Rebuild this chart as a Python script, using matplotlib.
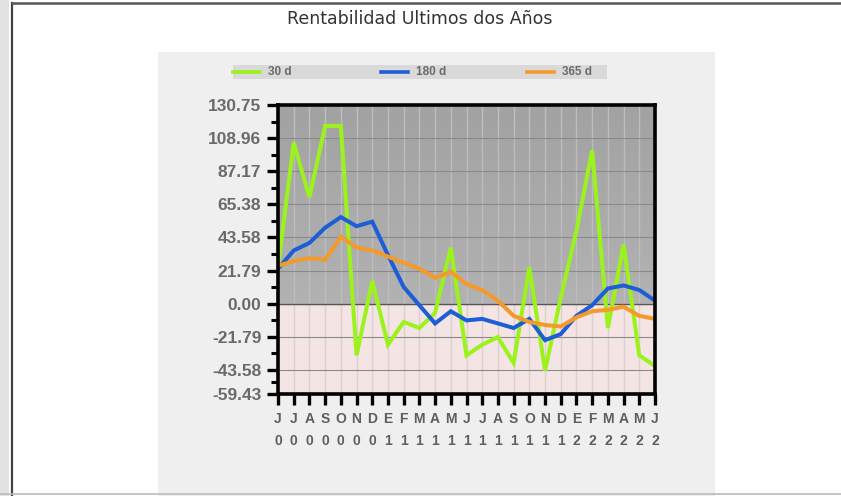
import numpy as np
import matplotlib
matplotlib.use('Agg')
import matplotlib.pyplot as plt
from matplotlib.patches import Rectangle
from matplotlib.lines import Line2D

# Datos
meses = ['J', 'J', 'A', 'S', 'O', 'N', 'D', 'E', 'F', 'M', 'A', 'M', 'J',
         'J', 'A', 'S', 'O', 'N', 'D', 'E', 'F', 'M', 'A', 'M', 'J']
anios = ['0'] * 7 + ['1'] * 12 + ['2'] * 6

r30 = [24, 106, 70, 117, 117, -34, 15, -27, -12, -16, -6, 37, -34,
       -27, -22, -39, 24, -44, 4, 48, 101, -16, 39, -34, -41]
r180 = [23, 35, 40, 50, 57, 51, 54, 32, 11, -1, -13, -5, -11,
        -10, -13, -16, -10, -24, -20, -8, -1, 10, 12, 9, 2]
r365 = [25, 28, 30, 29, 44, 37, 35, 31, 27, 23, 17, 21, 13,
        9, 2, -8, -12, -14, -15, -9, -5, -4, -2, -8, -10]

series = ['30 d', '180 d', '365 d']
colores = ['#9cf21c', '#1d5ed6', '#f39a2a']

yticks = [-59.43, -43.58, -21.79, 0.00, 21.79, 43.58, 65.38, 87.17, 108.96, 130.75]
ymin, ymax = -59.43, 130.75

fig = plt.figure(figsize=(8.41, 4.96), dpi=100)
fig.patch.set_facecolor('white')

# marco exterior
fig.patches.append(Rectangle((0, 0), 9 / 841, 1, transform=fig.transFigure,
                             facecolor='#e2e2e2', edgecolor='none', zorder=-2))
fig.add_artist(Line2D([12 / 841, 12 / 841], [0, 1 - 3 / 496], color='#444444', lw=1.6))
fig.add_artist(Line2D([12 / 841, 1], [1 - 3 / 496, 1 - 3 / 496], color='#555555', lw=1.8))
fig.add_artist(Line2D([0, 1], [2 / 496, 2 / 496], color='#bbbbbb', lw=1.2))

# panel gris
fig.patches.append(Rectangle((158 / 841, 0), (715 - 158) / 841, 1 - 52 / 496,
                             transform=fig.transFigure, facecolor='#efefef',
                             edgecolor='none', zorder=-2))

fig.text(420 / 841, 1 - 19 / 496, 'Rentabilidad Ultimos dos Años', ha='center',
         va='center', fontsize=12.5, color='#333333', family='DejaVu Sans')

# leyenda
fig.patches.append(Rectangle((233 / 841, 1 - 79 / 496), (607 - 233) / 841, 14 / 496,
                             transform=fig.transFigure, facecolor='#d9d9d9',
                             edgecolor='none', zorder=-1))
leg_x = [233, 381, 527]
for nombre, col, lx in zip(series, colores, leg_x):
    fig.add_artist(Line2D([lx / 841, (lx + 27) / 841], [1 - 72 / 496] * 2,
                          color=col, lw=2.6, zorder=2))
    fig.text((lx + 35) / 841, 1 - 72 / 496, nombre, ha='left', va='center',
             fontsize=8.5, fontweight='bold', color='#6b6b6b', family='Liberation Sans')

ax = fig.add_axes([278 / 841, 1 - 394 / 496, 377 / 841, 289 / 496])
ax.set_zorder(3)
x = np.arange(len(meses))

# fondo: degradado gris arriba, rosado abajo
grad = np.linspace(0, 1, 100).reshape(-1, 1)
cmap = matplotlib.colors.LinearSegmentedColormap.from_list('g', ['#b2b2b2', '#a2a2a2'])
ax.imshow(grad, extent=[0, len(meses) - 1, 0, ymax], origin='lower', aspect='auto',
          cmap=cmap, zorder=0)
ax.axhspan(ymin, 0, color='#f4e4e4', zorder=0)
ax.set_xlim(0, len(meses) - 1)
ax.set_ylim(ymin, ymax)

# rejilla
for xi in x:
    ax.plot([xi, xi], [0, ymax], color='#bdbdbd', lw=1.0, zorder=1)
    ax.plot([xi, xi], [ymin, 0], color='#ddd0d0', lw=1.0, zorder=1)
for yv in yticks:
    ax.axhline(yv, color='#8a8a8a', lw=0.8, zorder=1)
ax.axhline(0, color='#555555', lw=1.0, zorder=1)

for vals, col in zip([r30, r180, r365], colores):
    ax.plot(x, vals, color=col, lw=2.9, zorder=3, solid_joinstyle='miter')

ax.set_yticks(yticks)
ax.set_yticklabels([f'{v:.2f}' for v in yticks])
minors = [(yticks[i] + yticks[i + 1]) / 2 for i in range(len(yticks) - 1)]
ax.set_yticks(minors, minor=True)
ax.set_xticks(x)
ax.set_xticklabels([f'{m}\n{a}' for m, a in zip(meses, anios)], linespacing=1.75)

for lab in ax.get_yticklabels():
    lab.set_fontweight('bold')
    lab.set_fontsize(12.5)
    lab.set_color('#6a6a6a')
    lab.set_family('Liberation Sans')
for lab in ax.get_xticklabels():
    lab.set_fontweight('bold')
    lab.set_fontsize(10)
    lab.set_color('#5e5e5e')
    lab.set_family('Liberation Sans')

ax.tick_params(axis='y', which='major', length=8, width=2.4, color='black', pad=4)
ax.tick_params(axis='y', which='minor', length=5, width=2.2, color='black')
ax.tick_params(axis='x', which='major', length=8, width=2.4, color='black', pad=5)
for s in ax.spines.values():
    s.set_linewidth(2.6)
    s.set_color('black')
    s.set_zorder(5)

fig.savefig('out.png', dpi=100)
